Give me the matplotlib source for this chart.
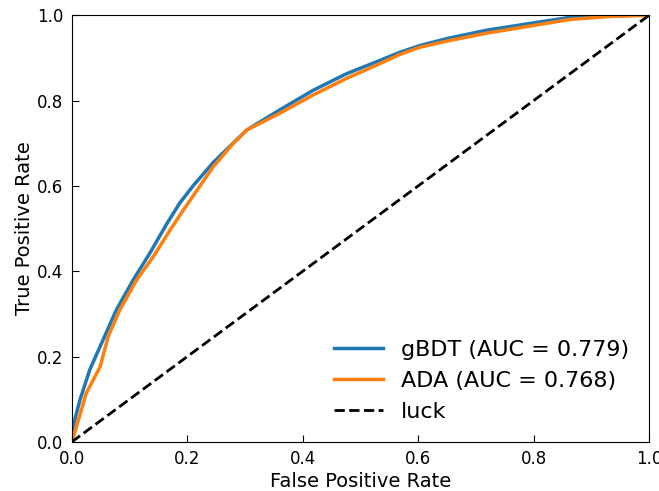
import matplotlib
matplotlib.use("Agg")
import matplotlib.pyplot as plt

# ROC curve points
gbdt_fpr = [0, 0.002, 0.014, 0.031, 0.054, 0.077, 0.106, 0.135, 0.164, 0.187, 0.21,
            0.245, 0.303, 0.36, 0.418, 0.476, 0.528, 0.568, 0.603, 0.652, 0.719,
            0.8, 0.863, 0.93, 1.0]
gbdt_tpr = [0, 0.036, 0.098, 0.169, 0.239, 0.309, 0.379, 0.442, 0.51, 0.56, 0.6,
            0.655, 0.731, 0.778, 0.824, 0.863, 0.891, 0.913, 0.929, 0.946, 0.965,
            0.982, 0.995, 0.999, 1.0]

ada_fpr = [0, 0.008, 0.025, 0.049, 0.063, 0.083, 0.112, 0.141, 0.17, 0.193, 0.245,
           0.28, 0.303, 0.36, 0.418, 0.476, 0.528, 0.568, 0.603, 0.652, 0.719,
           0.8, 0.863, 0.93, 1.0]
ada_tpr = [0, 0.036, 0.114, 0.176, 0.247, 0.309, 0.379, 0.434, 0.496, 0.543, 0.645,
           0.70, 0.731, 0.77, 0.813, 0.852, 0.883, 0.908, 0.925, 0.94, 0.958,
           0.976, 0.99, 0.997, 1.0]

gbdt_auc = 0.779
ada_auc = 0.768

fig = plt.figure(figsize=(6.59, 4.91), dpi=100)
ax = fig.add_axes([0.109, 0.1, 0.876, 0.869])

ax.plot(gbdt_fpr, gbdt_tpr, color="#1f77b4", lw=2.5, label=f"gBDT (AUC = {gbdt_auc:.3f})")
ax.plot(ada_fpr, ada_tpr, color="#ff7f0e", lw=2.5, label=f"ADA (AUC = {ada_auc:.3f})")
ax.plot([0, 1], [0, 1], color="black", lw=2, ls="--", label="luck")

ax.set_xlim(0, 1)
ax.set_ylim(0, 1)
ax.set_xticks([0, 0.2, 0.4, 0.6, 0.8, 1.0])
ax.set_yticks([0, 0.2, 0.4, 0.6, 0.8, 1.0])
ax.tick_params(direction="in", labelsize=12, pad=6, length=5)
ax.set_xlabel("False Positive Rate", fontsize=14, labelpad=3)
ax.set_ylabel("True Positive Rate", fontsize=14, labelpad=2)
ax.legend(loc="lower right", frameon=False, fontsize=16, handlelength=2.2,
          borderaxespad=0.5)

fig.savefig("out.png", dpi=100)
